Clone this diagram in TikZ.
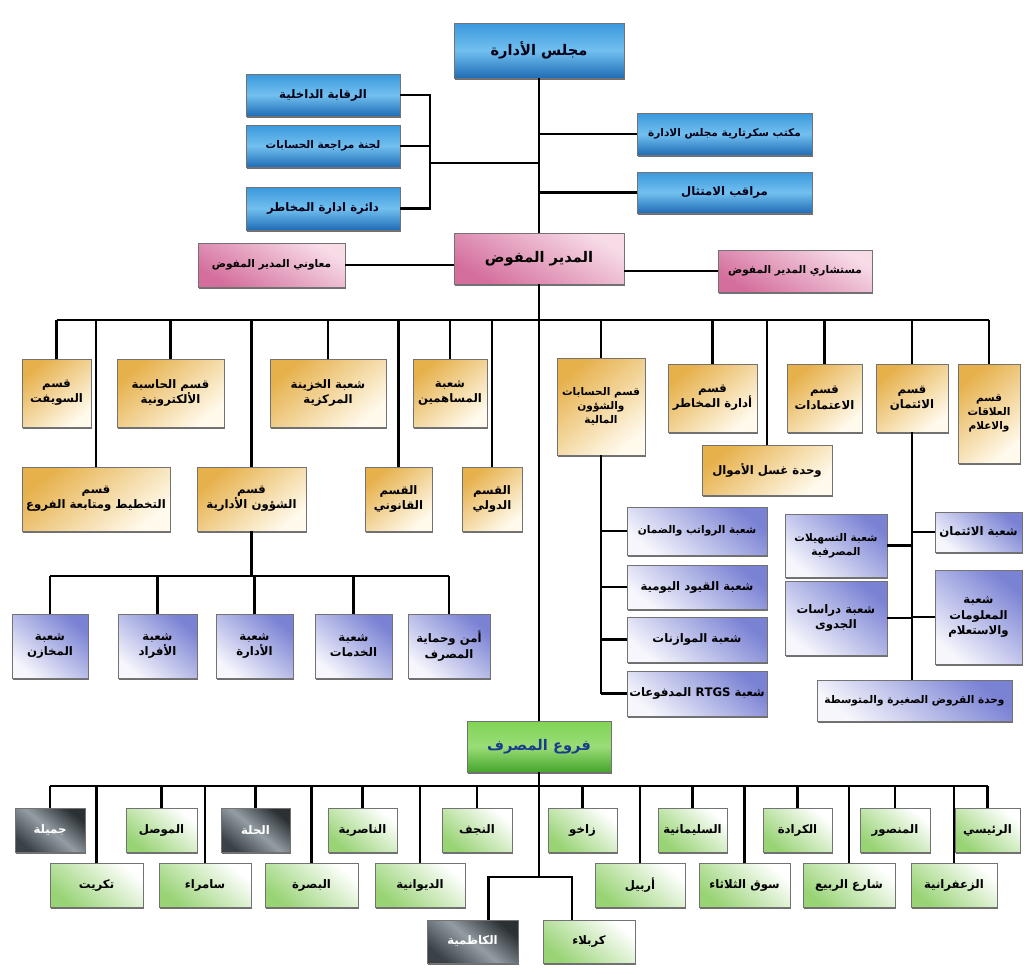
\documentclass[tikz,border=0pt]{standalone}
\usepackage{fontspec}
\TeXXeTstate=1
\newfontfamily\arabicfont[Script=Arabic]{DejaVu Sans}
\usetikzlibrary{shadows,calc}
\newcommand\ar[1]{{\beginR #1\endR}}
\newcommand\bx[7]{\node[#1, minimum width={(#5-#3)*0.03cm}, minimum height={(#6-#4)*0.03cm}] (#2) at ({(#3+#5)/2},{(#4+#6)/2}) {#7};}
\definecolor{bA}{HTML}{3A98DC}
\definecolor{bB}{HTML}{1F6CB6}
\definecolor{bC}{HTML}{72C0EF}
\definecolor{pA}{HTML}{F7DCE8}
\definecolor{pB}{HTML}{D46E9C}
\definecolor{yA}{HTML}{E6B04A}
\definecolor{yB}{HTML}{FFFAEC}
\definecolor{vA}{HTML}{7A82D4}
\definecolor{vB}{HTML}{F6F6FC}
\definecolor{gA}{HTML}{FFFFFF}
\definecolor{gB}{HTML}{98D374}
\definecolor{dA}{HTML}{2A3034}
\definecolor{dB}{HTML}{3A4247}
\definecolor{dC}{HTML}{939DA3}
\definecolor{mA}{HTML}{80D455}
\definecolor{mB}{HTML}{45A52C}
\definecolor{mT}{HTML}{1B3C8C}
\tikzset{
  ln/.style={line width=2.2pt, black},
  box/.style={rectangle, draw=black!55, line width=0.3pt, align=center, inner sep=1pt,
    font=\arabicfont\bfseries\fontsize{10}{13}\selectfont, text=black,
    drop shadow={shadow xshift=1.2pt, shadow yshift=-1.4pt, opacity=0.75, fill=black!75}},
  smallfont/.style={font=\arabicfont\bfseries\fontsize{9}{12}\selectfont},
  bigfont/.style={font=\arabicfont\bfseries\fontsize{12.5}{15}\selectfont},
  bluebox/.style={box, top color=bA, bottom color=bB, middle color=bC, text=black!90!blue},
  pinkbox/.style={box, top color=pA, bottom color=pB, shading angle=-30},
  ylwbox/.style={box, top color=yA, bottom color=yB, shading angle=40},
  vltbox/.style={box, top color=vA, bottom color=vB, shading angle=-40},
  grnbox/.style={box, top color=gA, bottom color=gB, shading angle=-40},
  drkbox/.style={box, top color=dA, bottom color=dB, middle color=dC, shading angle=-40, text=white},
  mainbox/.style={box, top color=mA, bottom color=mB, middle color=mA!80!white, text=mT, bigfont}
}
\begin{document}
\begin{tikzpicture}[x=0.03cm,y=-0.03cm]
\useasboundingbox[fill=white] (0,0) rectangle (1025,974);
% ---------- top ----------
\bx{bluebox,bigfont}{board}{454}{23}{624}{78}{\ar{مجلس الأدارة}}
\bx{bluebox}{L1}{246}{74}{400}{116}{\ar{الرقابة الداخلية}}
\bx{bluebox,smallfont}{L2}{246}{125}{400}{167}{\ar{لجنة مراجعة الحسابات}}
\bx{bluebox}{L3}{246}{187}{400}{230}{\ar{دائرة ادارة المخاطر}}
\bx{bluebox,smallfont}{R1}{637}{113}{812}{155}{\ar{مكتب سكرتارية مجلس الادارة}}
\bx{bluebox}{R2}{637}{172}{812}{213}{\ar{مراقب الامتثال}}
% ---------- CEO ----------
\bx{pinkbox,bigfont}{ceo}{454}{233}{624}{284}{\ar{المدير المفوض}}
\bx{pinkbox,smallfont}{dep}{198}{243}{345}{287}{\ar{معاوني المدير المفوض}}
\bx{pinkbox,smallfont}{adv}{718}{250}{872}{292}{\ar{مستشاري المدير المفوض}}
% ---------- departments ----------
\bx{ylwbox}{swift}{22}{359}{91}{427}{\ar{قسم}\\\ar{السويفت}}
\bx{ylwbox}{comp}{117}{359}{224}{427}{\ar{قسم الحاسبة}\\\ar{الألكترونية}}
\bx{ylwbox}{treas}{270}{359}{386}{427}{\ar{شعبة الخزينة}\\\ar{المركزية}}
\bx{ylwbox}{share}{413}{359}{487}{427}{\ar{شعبة}\\\ar{المساهمين}}
\bx{ylwbox}{plan}{22}{467}{170}{531}{\ar{قسم}\\\ar{التخطيط  ومتابعة الفروع}}
\bx{ylwbox}{admin}{197}{467}{306}{531}{\ar{قسم}\\\ar{الشؤون الأدارية}}
\bx{ylwbox}{legal}{365}{467}{432}{531}{\ar{القسم}\\\ar{القانوني}}
\bx{ylwbox}{intl}{462}{467}{522}{531}{\ar{القسم}\\\ar{الدولي}}
\bx{ylwbox,smallfont}{acct}{557}{358}{645}{455}{\ar{قسم الحسابات}\\\ar{والشؤون}\\\ar{المالية}}
\bx{ylwbox}{risk}{668}{364}{757}{432}{\ar{قسم}\\\ar{أدارة المخاطر}}
\bx{ylwbox}{aml}{702}{445}{832}{495}{\ar{وحدة غسل الأموال}}
\bx{ylwbox}{lc}{787}{364}{862}{432}{\ar{قسم}\\\ar{الاعتمادات}}
\bx{ylwbox}{credit}{876}{364}{948}{432}{\ar{قسم}\\\ar{الائتمان}}
\bx{ylwbox,smallfont}{pr}{958}{364}{1020}{463}{\ar{قسم}\\\ar{العلاقات}\\\ar{والاعلام}}
% ---------- admin sections ----------
\bx{vltbox}{s1}{12}{614}{88}{678}{\ar{شعبة}\\\ar{المخازن}}
\bx{vltbox}{s2}{118}{614}{197}{678}{\ar{شعبة}\\\ar{الأفراد}}
\bx{vltbox}{s3}{216}{614}{293}{678}{\ar{شعبة}\\\ar{الأدارة}}
\bx{vltbox}{s4}{315}{614}{392}{678}{\ar{شعبة}\\\ar{الخدمات}}
\bx{vltbox}{s5}{408}{614}{490}{678}{\ar{أمن وحماية}\\\ar{المصرف}}
% ---------- accounts sections ----------
\bx{vltbox,smallfont}{a1}{627}{507}{767}{555}{\ar{شعبة الرواتب والضمان}}
\bx{vltbox}{a2}{627}{565}{767}{609}{\ar{شعبة القيود اليومية}}
\bx{vltbox}{a3}{627}{617}{767}{662}{\ar{شعبة الموازنات}}
\bx{vltbox}{a4}{627}{671}{767}{716}{\ar{شعبة \beginL RTGS\endL{} المدفوعات}}
% ---------- credit sections ----------
\bx{vltbox}{c1}{935}{512}{1022}{552}{\ar{شعبة الائتمان}}
\bx{vltbox,smallfont}{c2}{785}{514}{887}{577}{\ar{شعبة التسهيلات}\\\ar{المصرفية}}
\bx{vltbox}{c3}{785}{581}{887}{655}{\ar{شعبة دراسات}\\\ar{الجدوى}}
\bx{vltbox}{c4}{935}{570}{1022}{664}{\ar{شعبة}\\\ar{المعلومات}\\\ar{والاستعلام}}
\bx{vltbox,smallfont}{loans}{817}{680}{1012}{721}{\ar{وحدة القروض الصغيرة والمتوسطة}}
% ---------- branches ----------
\bx{mainbox}{green}{467}{721}{611}{772}{\ar{فروع المصرف}}
\bx{drkbox}{jam}{15}{808}{85}{852}{\ar{جميلة}}
\bx{grnbox}{mos}{126}{808}{197}{852}{\ar{الموصل}}
\bx{drkbox}{hil}{221}{808}{290}{852}{\ar{الحلة}}
\bx{grnbox}{nas}{328}{808}{397}{852}{\ar{الناصرية}}
\bx{grnbox}{naj}{442}{808}{512}{852}{\ar{النجف}}
\bx{grnbox}{zak}{548}{808}{617}{852}{\ar{زاخو}}
\bx{grnbox}{sul}{658}{808}{727}{852}{\ar{السليمانية}}
\bx{grnbox}{kar}{763}{808}{832}{852}{\ar{الكرادة}}
\bx{grnbox}{man}{860}{808}{930}{852}{\ar{المنصور}}
\bx{grnbox}{rai}{955}{808}{1020}{852}{\ar{الرئيسي}}
\bx{grnbox}{tik}{50}{863}{143}{907}{\ar{تكريت}}
\bx{grnbox}{sam}{159}{863}{251}{907}{\ar{سامراء}}
\bx{grnbox}{bas}{265}{863}{358}{907}{\ar{البصرة}}
\bx{grnbox}{diw}{375}{863}{465}{907}{\ar{الديوانية}}
\bx{grnbox}{erb}{595}{863}{685}{907}{\ar{أربيل}}
\bx{grnbox}{suq}{699}{863}{790}{907}{\ar{سوق الثلاثاء}}
\bx{grnbox}{rab}{803}{863}{895}{907}{\ar{شارع الربيع}}
\bx{grnbox}{zaf}{911}{863}{997}{907}{\ar{الزعفرانية}}
\bx{drkbox}{kad}{427}{920}{518}{963}{\ar{الكاظمية}}
\bx{grnbox}{krb}{543}{920}{635}{963}{\ar{كربلاء}}
% ---------- connectors ----------
\coordinate (brk) at (430,163);
\coordinate (bus) at (55,320);
\coordinate (sb) at (50,576);
\coordinate (bbus) at (50,786);
\coordinate (kj) at (539,877);
\draw[ln] (board.south) -- (ceo.north);
\draw[ln] (L1.east) -- (L1.east -| brk) -- (L3.east -| brk) -- (L3.east);
\draw[ln] (L2.east) -- (L2.east -| brk);
\draw[ln] (brk) -- (brk -| board.south);
\draw[ln] (R1.west) -- (R1.west -| board.south);
\draw[ln] (R2.west) -- (R2.west -| board.south);
\draw[ln] (dep.east) -- (dep.east -| ceo.west);
\draw[ln] (adv.west) -- (adv.west -| ceo.east);
\draw[ln] (ceo.south) -- (green.north);
\draw[ln] (swift.north |- bus) -- (pr.north |- bus);
\foreach \n in {swift,comp,treas,share,plan,admin,legal,intl,acct,risk,aml,lc,credit,pr}
  \draw[ln] (\n.north) -- (\n.north |- bus);
\draw[ln] (admin.south) -- (admin.south |- sb);
\draw[ln] (s1.north |- sb) -- (s5.north |- sb);
\foreach \n in {s1,s2,s3,s4,s5}
  \draw[ln] (\n.north) -- (\n.north |- sb);
\draw[ln] (acct.south) -- (acct.south |- a4.west);
\foreach \n in {a1,a2,a3,a4}
  \draw[ln] (\n.west) -- (\n.west -| acct.south);
\draw[ln] (credit.south) -- (credit.south |- loans.north);
\draw[ln] (c1.west) -- (c1.west -| credit.south);
\draw[ln] (c2.east) -- (c2.east -| credit.south);
\draw[ln] (c3.east) -- (c3.east -| credit.south);
\draw[ln] (c4.west) -- (c4.west -| credit.south);
\draw[ln] (jam.north |- bbus) -- (rai.north |- bbus);
\foreach \n in {jam,mos,hil,nas,naj,zak,sul,kar,man,rai,tik,sam,bas,diw,erb,suq,rab,zaf}
  \draw[ln] (\n.north) -- (\n.north |- bbus);
\draw[ln] (green.south) -- (kj);
\draw[ln] ($(kad.north)+(16,0)$) |- (kj) -| ($(krb.north)+(-17,0)$);
\end{tikzpicture}
\end{document}
